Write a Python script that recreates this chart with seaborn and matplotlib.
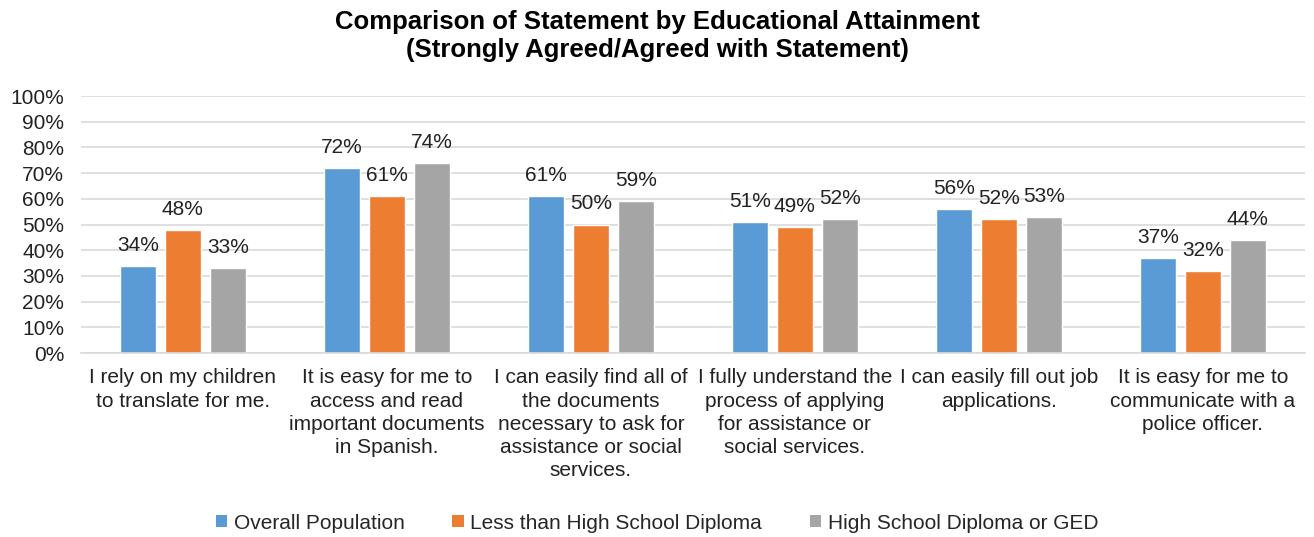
import matplotlib
matplotlib.use("Agg")
import matplotlib.pyplot as plt
import seaborn as sns
import pandas as pd
from matplotlib.patches import Patch

categories = [
    "I rely on my children\nto translate for me.",
    "It is easy for me to\naccess and read\nimportant documents\nin Spanish.",
    "I can easily find all of\nthe documents\nnecessary to ask for\nassistance or social\nservices.",
    "I fully understand the\nprocess of applying\nfor assistance or\nsocial services.",
    "I can easily fill out job\napplications.",
    "It is easy for me to\ncommunicate with a\npolice officer.",
]
series_names = ["Overall Population", "Less than High School Diploma", "High School Diploma or GED"]
overall = [34, 72, 61, 51, 56, 37]
less_hs = [48, 61, 50, 49, 52, 32]
hs_ged = [33, 74, 59, 52, 53, 44]
colors = ["#5B9BD5", "#ED7D31", "#A5A5A5"]

rows = []
for name, vals in zip(series_names, [overall, less_hs, hs_ged]):
    for c, v in zip(categories, vals):
        rows.append({"cat": c, "series": name, "value": v})
df = pd.DataFrame(rows)

sns.set_theme(style="white")
plt.rcParams["font.family"] = ["Liberation Sans", "DejaVu Sans"]

fig = plt.figure(figsize=(13.14, 5.37), dpi=100)
ax = fig.add_axes([0.0616, 0.3426, 0.9314, 0.4786])

sns.barplot(data=df, x="cat", y="value", hue="series", order=categories,
            hue_order=series_names, palette=colors, width=0.66, gap=0.2,
            saturation=1, ax=ax, legend=False, errorbar=None)

ax.set_ylim(0, 100)
ax.set_yticks(range(0, 101, 10))
ax.set_yticklabels([f"{t}%" for t in range(0, 101, 10)], fontsize=15, color="#222222")
ax.set_xticks(range(len(categories)))
ax.set_xticklabels(categories, fontsize=15, color="#222222", linespacing=1.28)
ax.set_xlim(-0.5, len(categories) - 0.5)
ax.set_xlabel("")
ax.set_ylabel("")
ax.tick_params(axis="y", length=0, pad=12)
ax.tick_params(axis="x", length=0, pad=11)
ax.yaxis.grid(True, color="#D9D9D9", linewidth=1.2)
ax.set_axisbelow(True)
for s in ["top", "right", "left"]:
    ax.spines[s].set_visible(False)
ax.spines["bottom"].set_color("#D9D9D9")
ax.spines["bottom"].set_linewidth(1.2)

for cont in ax.containers:
    ax.bar_label(cont, labels=[f"{int(round(b.get_height()))}%" for b in cont],
                 padding=8, fontsize=15, color="#222222")

fig.text(0.5, 0.982, "Comparison of Statement by Educational Attainment\n(Strongly Agreed/Agreed with Statement)",
         ha="center", va="top", fontsize=18.5, fontweight="bold", color="#000000", linespacing=1.25)

handles = [Patch(facecolor=c, edgecolor="none") for c in colors]
fig.legend(handles, series_names, loc="center", bbox_to_anchor=(0.5, 0.026), ncol=3,
           frameon=False, fontsize=15, handlelength=0.55, handleheight=0.55,
           handletextpad=0.3, columnspacing=2.3)

fig.savefig("out.png", dpi=100)
